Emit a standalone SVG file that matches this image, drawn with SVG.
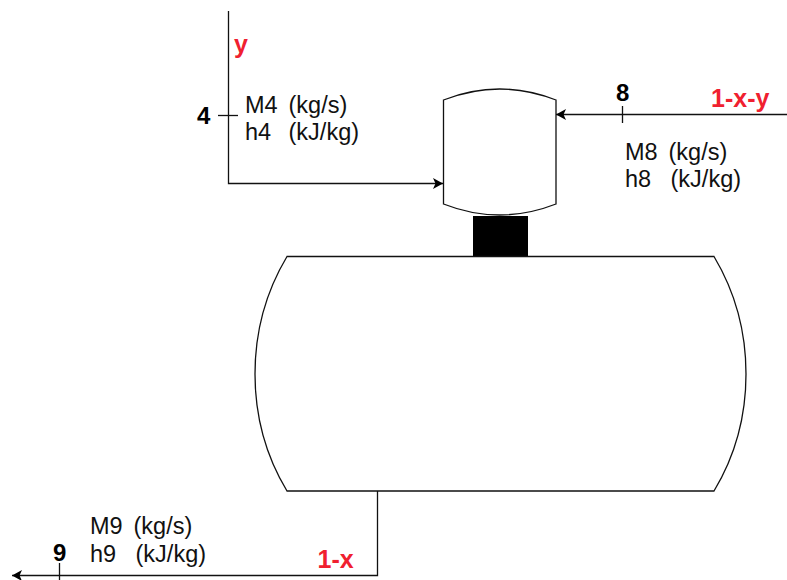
<svg xmlns="http://www.w3.org/2000/svg" width="787" height="580" viewBox="0 0 787 580">
<style>
.s{fill:#fff;stroke:#111;stroke-width:1.3}
.c{fill:none;stroke:#111;stroke-width:1.3}
text{font-family:"Liberation Sans",Arial,sans-serif}
.t{font-size:23.500px;fill:#111}
.b{font-size:24px;font-weight:bold;fill:#000}
.r{font-size:25px;font-weight:bold;fill:#f0202f}
</style>
<defs>
<marker id="a" markerUnits="userSpaceOnUse" markerWidth="12" markerHeight="12" refX="10" refY="5.500" orient="auto"><path d="M0 0L10 5.500L0 11L2.500 5.500Z" fill="#000"/></marker>
</defs>
<g id="connectors">
<path class="c" d="M228.500 11V183.500H443" marker-end="url(#a)"/>
<path class="c" d="M787 114.500H556" marker-end="url(#a)"/>
<path class="c" d="M377.500 491V575.500H12" marker-end="url(#a)"/>
<path class="c" d="M218 115.500H238"/>
<path class="c" d="M622.500 106V123"/>
<path class="c" d="M59.500 563V580"/>
</g>
<g id="compressor"><path class="s" d="M443.500 100Q499.500 78 556 100V204Q499.500 226 443.500 204Z"/></g>
<g id="shaft"><rect x="473" y="216" width="55" height="40" fill="#000"/></g>
<g id="vessel"><path class="s" d="M287 256.500H714Q746 310 746 374Q746 438 714 491H287Q255 438 255 374Q255 310 287 256.500Z"/></g>
<g id="stream-4">
<text class="b" x="197" y="124">4</text>
<text class="r" x="234" y="53">y</text>
<text class="t" x="245" y="113">M4<tspan x="282"> (kg/s)</tspan></text>
<text class="t" x="245" y="140">h4<tspan x="282"> (kJ/kg)</tspan></text>
</g>
<g id="stream-8">
<text class="b" x="616" y="101">8</text>
<text class="r" x="711" y="107">1-x-y</text>
<text class="t" x="625" y="160">M8<tspan x="662"> (kg/s)</tspan></text>
<text class="t" x="625" y="187">h8<tspan x="664"> (kJ/kg)</tspan></text>
</g>
<g id="stream-9">
<text class="b" x="53" y="561">9</text>
<text class="r" x="317.500" y="568">1-x</text>
<text class="t" x="90" y="534">M9<tspan x="127"> (kg/s)</tspan></text>
<text class="t" x="90" y="562">h9<tspan x="129"> (kJ/kg)</tspan></text>
</g>
</svg>
